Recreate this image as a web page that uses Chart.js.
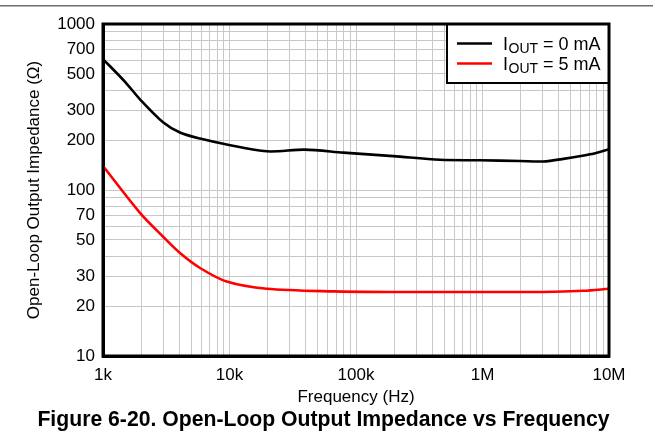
<!DOCTYPE html>
<html><head><meta charset="utf-8">
<script src="https://cdn.jsdelivr.net/npm/chart.js@4/dist/chart.umd.min.js"></script>
<style>html,body{margin:0;padding:0;background:#fff}#wrap{width:653px;height:444px;position:relative}</style>
</head><body><div id="wrap"><canvas id="c"></canvas></div>
<script>
// ---- data ----
const freq0 = [1000,1500,1960,3000,4060,5850,9500,19700,39500,79400,197000,461000,955000,1980000,3020000,4360000,7080000,10000000];
const imp0  = [615,447,352,255,222,204,188,171,175,168,160,152,151,149.5,148.5,154,164,176];
const freq5 = [1000,1960,3000,4060,5850,9500,19700,66000,200000,1000000,3000000,6270000,10000000];
const imp5  = [139.5,72.8,52.1,41.7,33.9,28.1,25.4,24.5,24.3,24.3,24.3,24.7,25.4];
const seriesLabels = ['IOUT = 0 mA','IOUT = 5 mA'];
const legendBase = ['I','I'];
const legendSub  = ['OUT','OUT'];
const legendRest = [' = 0 mA',' = 5 mA'];
const seriesColors = ['#000000','#ff0000'];
const xGrid = [1e3,2e3,3e3,4e3,5e3,6e3,7e3,8e3,9e3,1e4,2e4,3e4,4e4,5e4,6e4,7e4,8e4,9e4,1e5,2e5,3e5,4e5,5e5,6e5,7e5,8e5,9e5,1e6,2e6,3e6,4e6,5e6,6e6,7e6,8e6,9e6,1e7];
const xTickValues = [1e3,1e4,1e5,1e6,1e7];
const xTickLabels = ['1k','10k','100k','1M','10M'];
const yGrid = [10,20,30,40,50,60,70,80,90,100,200,300,400,500,600,700,800,900,1000];
const yTickValues = [10,20,30,50,70,100,200,300,500,700,1000];
const yTickLabels = ['10','20','30','50','70','100','200','300','500','700','1000'];
const xTitle = 'Frequency (Hz)';
const yTitle = 'Open-Loop Output Impedance (\u03A9)';
const figTitle = 'Figure 6-20. Open-Loop Output Impedance vs Frequency';

const FONT = "'Liberation Sans', Arial, sans-serif";
const toPts = (xs, ys) => xs.map((x, i) => ({x: x, y: ys[i]}));

const framePlugin = {
  id: 'frameLegend',
  beforeDraw(chart) {
    const ctx = chart.ctx;
    ctx.save();
    ctx.fillStyle = '#6e6e6e';
    ctx.fillRect(0, 5, chart.width, 1.5);
    ctx.restore();
  },
  afterDraw(chart) {
    const ctx = chart.ctx, a = chart.chartArea;
    ctx.save();
    const bw = 162, bh = 59;
    const bx = a.right - bw, by = a.top;
    ctx.fillStyle = '#fff';
    ctx.fillRect(bx, by, bw, bh);
    ctx.strokeStyle = '#000';
    ctx.lineWidth = 2;
    ctx.strokeRect(bx, by, bw, bh);
    for (let i = 0; i < seriesLabels.length; i++) {
      const cy = by + 19.5 + i * 20;
      ctx.strokeStyle = seriesColors[i];
      ctx.lineWidth = 2.5;
      ctx.beginPath();
      ctx.moveTo(bx + 10, cy);
      ctx.lineTo(bx + 45, cy);
      ctx.stroke();
      const base = cy + 6.5;
      let tx = bx + 56;
      ctx.fillStyle = '#000';
      ctx.textBaseline = 'alphabetic';
      ctx.textAlign = 'left';
      ctx.font = '18px ' + FONT;
      ctx.fillText(legendBase[i], tx, base);
      tx += ctx.measureText(legendBase[i]).width + 0.5;
      ctx.font = '14px ' + FONT;
      ctx.fillText(legendSub[i], tx, base + 2.7);
      tx += ctx.measureText(legendSub[i]).width;
      ctx.font = '18px ' + FONT;
      ctx.fillText(legendRest[i], tx, base);
    }
    ctx.strokeStyle = '#000';
    ctx.lineWidth = 3;
    ctx.strokeRect(a.left, a.top, a.right - a.left, a.bottom - a.top);
    // figure caption
    ctx.fillStyle = '#000';
    ctx.font = 'bold 21.2px ' + FONT;
    ctx.textAlign = 'center';
    ctx.textBaseline = 'middle';
    ctx.fillText(figTitle, 323.5, 420);
    ctx.restore();
  }
};

new Chart(document.getElementById('c'), {
  type: 'line',
  data: {
    datasets: [
      {label: seriesLabels[0], data: toPts(freq0, imp0), borderColor: seriesColors[0], borderWidth: 2.6, pointRadius: 0, tension: 0.3, fill: false},
      {label: seriesLabels[1], data: toPts(freq5, imp5), borderColor: seriesColors[1], borderWidth: 2.6, pointRadius: 0, tension: 0.3, fill: false}
    ]
  },
  options: {
    responsive: true,
    maintainAspectRatio: false,
    animation: false,
    events: [],
    layout: {padding: {left: 0, right: 44, top: 24, bottom: 36}},
    plugins: {
      legend: {display: false},
      tooltip: {enabled: false},
      title: {display: false}
    },
    scales: {
      x: {
        type: 'logarithmic', min: 1e3, max: 1e7,
        afterBuildTicks: s => { s.ticks = xGrid.map(v => ({value: v})); },
        afterFit: s => { s.height = 52; },
        ticks: {autoSkip: false, maxRotation: 0, color: '#000', padding: 9,
                font: {family: FONT, size: 17},
                callback: v => { const k = xTickValues.indexOf(v); return k >= 0 ? xTickLabels[k] : ''; }},
        grid: {color: '#c8c8c8', lineWidth: 1, drawTicks: false},
        border: {display: true, color: '#000', width: 3},
        title: {display: true, text: xTitle, color: '#000', font: {family: FONT, size: 17}, padding: {top: 3, bottom: 0}}
      },
      y: {
        type: 'logarithmic', min: 10, max: 1000,
        afterBuildTicks: s => { s.ticks = yGrid.map(v => ({value: v})); },
        afterFit: s => { s.width = 103; },
        ticks: {autoSkip: false, color: '#000', padding: 8,
                font: {family: FONT, size: 17},
                callback: v => { const k = yTickValues.indexOf(v); return k >= 0 ? yTickLabels[k] : ''; }},
        grid: {color: '#c8c8c8', lineWidth: 1, drawTicks: false},
        border: {display: true, color: '#000', width: 3},
        title: {display: true, text: yTitle, color: '#000', font: {family: FONT, size: 17}, padding: {top: 24, bottom: 0}}
      }
    }
  },
  plugins: [framePlugin]
});
</script>
</body></html>
